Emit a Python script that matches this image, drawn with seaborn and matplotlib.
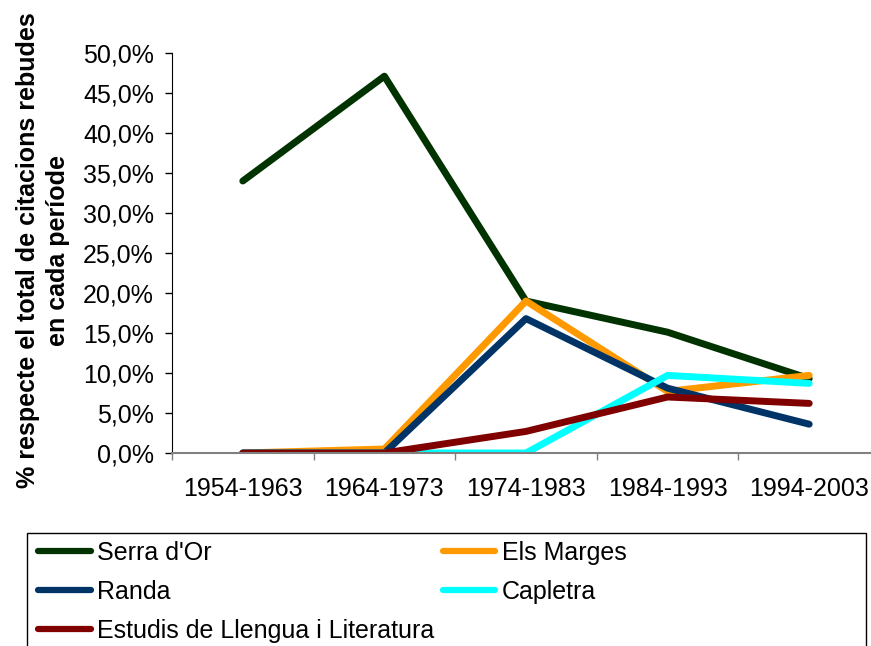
import numpy as np
import pandas as pd
import matplotlib
matplotlib.use("Agg")
import matplotlib.pyplot as plt
from matplotlib.lines import Line2D
from matplotlib.patches import Rectangle
from matplotlib.ticker import FixedLocator, FuncFormatter
import seaborn as sns

# ----- data -----
periodes = ["1954-1963", "1964-1973", "1974-1983", "1984-1993", "1994-2003"]
serra_dor = [34.0, 47.1, 19.0, 15.1, 9.3]
els_marges = [0.0, 0.5, 19.0, 7.7, 9.7]
randa = [0.0, 0.0, 16.8, 8.1, 3.6]
capletra = [0.0, 0.0, 0.0, 9.7, 8.7]
estudis = [0.0, 0.0, 2.7, 7.0, 6.2]

revistes = ["Serra d'Or", "Els Marges", "Randa", "Capletra",
            "Estudis de Llengua i Literatura"]
valors = [serra_dor, els_marges, randa, capletra, estudis]
colors = ["#003300", "#FF9900", "#003366", "#00FFFF", "#800000"]

rows = []
for nom, vals in zip(revistes, valors):
    for i, v in enumerate(vals):
        rows.append({"x": i, "periode": periodes[i], "revista": nom, "pct": v})
df = pd.DataFrame(rows)

# ----- plot -----
sns.set_style("white")
plt.rcParams["font.family"] = ["Liberation Sans", "DejaVu Sans"]
plt.rcParams.update({"text.color": "black", "axes.labelcolor": "black",
                     "xtick.color": "black", "ytick.color": "black"})

fig = plt.figure(figsize=(8.71, 6.46), dpi=100)
ax = fig.add_axes([172 / 871, 1 - 453 / 646, (880 - 172) / 871, 400 / 646])

sns.lineplot(data=df, x="x", y="pct", hue="revista", hue_order=revistes,
             palette=colors, linewidth=5, legend=False, ax=ax,
             solid_capstyle="round", solid_joinstyle="round")

ax.set_xlim(-0.5, len(periodes) - 0.5)
ax.set_ylim(0, 50)
ax.set_yticks(np.arange(0, 51, 5))
ax.yaxis.set_major_formatter(FuncFormatter(lambda v, p: f"{v:.1f}%".replace(".", ",")))
ax.set_xticks(range(len(periodes)))
ax.set_xticklabels(periodes)
ax.xaxis.set_minor_locator(FixedLocator(np.arange(-0.5, len(periodes), 1)))
ax.tick_params(axis="x", which="major", length=0, pad=17, labelsize=18)
ax.tick_params(axis="x", which="minor", length=5, width=1, color="#808080", direction="out", bottom=True)
ax.tick_params(axis="y", length=5, width=1, color="black", direction="out", left=True,
               pad=8, labelsize=18)

for s in ["top", "right"]:
    ax.spines[s].set_visible(False)
ax.spines["left"].set_color("black")
ax.spines["left"].set_linewidth(0.8)
ax.spines["bottom"].set_color("#808080")
ax.spines["bottom"].set_linewidth(1.5)
ax.set_xlabel("")
ax.set_ylabel("% respecte el total de citacions rebudes\nen cada període",
              fontsize=18, fontweight="bold", linespacing=1.3)
ax.yaxis.label.set_va("center")
ax.yaxis.set_label_coords((43 - 172) / (880 - 172), (453 - 250) / 400)

# ----- legend (row-wise order: column 1 then column 2) -----
order = [0, 2, 4, 1, 3]
handles = [Line2D([0], [0], color=colors[i], lw=4.5, solid_capstyle="round") for i in order]
labels = [revistes[i] for i in order]
fig.legend(handles, labels, loc="upper left", bbox_to_anchor=(38 / 871, 1 - 541 / 646),
           ncol=2, frameon=False, fontsize=18, handlelength=2.1, handletextpad=0.25,
           columnspacing=0.35, labelspacing=0.6, borderaxespad=0, borderpad=0)
fig.patches.append(Rectangle((27 / 871, -0.05), (866 - 27) / 871, 0.05 + (646 - 533) / 646,
                             transform=fig.transFigure, fill=False, edgecolor="black", lw=1))

plt.savefig("out.png", dpi=100)
plt.close()
